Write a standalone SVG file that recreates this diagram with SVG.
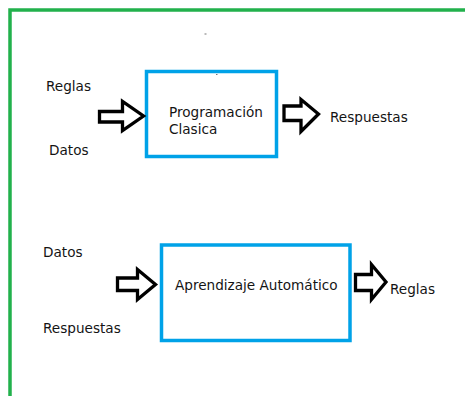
<svg xmlns="http://www.w3.org/2000/svg" width="465" height="396" viewBox="0 0 465 396">
  <style>
    .frame { fill: none; stroke: #22b14c; stroke-width: 3.5; }
    .box { fill: #ffffff; stroke: #00a2e8; stroke-width: 3.5; }
    .arrow { fill: #ffffff; stroke: #000000; stroke-width: 3.3; stroke-linejoin: miter; }
    .lbl { font-family: "DejaVu Sans", Verdana, sans-serif; font-size: 13.6px; fill: #141414; }
    .speck { fill: #777777; }
  </style>
  <rect width="465" height="396" fill="#ffffff"/>
  <!-- outer frame, open on the right and bottom -->
  <rect class="frame" x="10" y="10" width="470" height="400"/>
  <rect class="speck" x="204.5" y="33.5" width="2" height="1"/>

  <!-- top row: classic programming -->
  <g id="in-reglas"><text class="lbl" x="46" y="91">Reglas</text></g>
  <g id="in-datos"><text class="lbl" x="49" y="155">Datos</text></g>
  <g id="programacion-clasica">
    <rect class="box" x="146.5" y="71.5" width="130" height="85"/>
    <rect class="speck" x="216" y="74" width="1.5" height="1"/>
    <text class="lbl" x="169" y="116.5">Programación</text>
    <text class="lbl" x="169" y="134">Clasica</text>
  </g>
  <g id="out-respuestas"><text class="lbl" x="330" y="122">Respuestas</text></g>

  <!-- bottom row: machine learning -->
  <g id="in-datos-2"><text class="lbl" x="43" y="257">Datos</text></g>
  <g id="in-respuestas"><text class="lbl" x="43" y="333">Respuestas</text></g>
  <g id="aprendizaje-automatico">
    <rect class="box" x="161.5" y="245" width="188.5" height="95.5"/>
    <text class="lbl" x="175" y="290">Aprendizaje Automático</text>
  </g>
  <g id="out-reglas"><text class="lbl" x="390" y="293.5">Reglas</text></g>

  <!-- block arrows -->
  <g id="connectors">
    <polygon class="arrow" points="99.5,111.5 122.5,111.5 122.5,101.5 143.5,116 122.5,130.5 122.5,122 99.5,122"/>
    <polygon class="arrow" points="284,106 301,106 301,99.5 318.5,114 301,131.5 301,120.5 284,120.5"/>
    <polygon class="arrow" points="117.5,278 137.5,278 137.5,269.5 155.5,284.5 137.5,299.5 137.5,290.5 117.5,290.5"/>
    <polygon class="arrow" points="355.5,274.5 371.5,274.5 371.5,264.5 386,282 371.5,299.5 371.5,290.5 355.5,290.5"/>
  </g>
</svg>
